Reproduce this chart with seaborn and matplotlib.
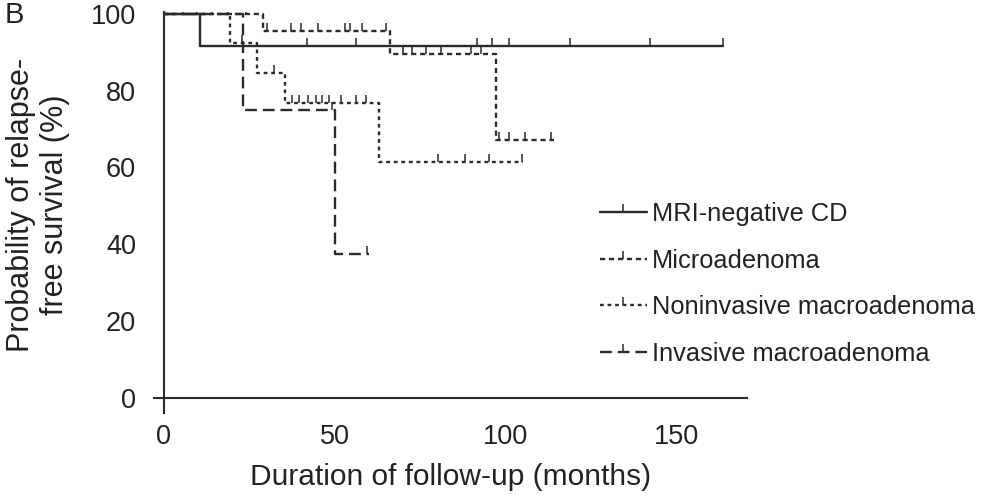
import numpy as np
import pandas as pd
import matplotlib
matplotlib.use("Agg")
import matplotlib.pyplot as plt
from matplotlib.lines import Line2D
import seaborn as sns

sns.set_theme(style="white")
plt.rcParams['font.family'] = ['Liberation Sans', 'DejaVu Sans']

# ---- data ----
groups = ["MRI-negative CD", "Microadenoma", "Noninvasive macroadenoma", "Invasive macroadenoma"]

# step change times (months) and survival (%) after each change; last entry = end of follow-up
mri_t = [0, 10.5, 163.5]
mri_s = [100, 91.7, 91.7]
mri_c = [5.5, 9.6, 41.9, 56.2, 91.4, 95.8, 100.8, 118.8, 142.1, 163.4]

micro_t = [0, 29, 66, 97, 114]
micro_s = [100, 95.5, 89.5, 67.1, 67.1]
micro_c = [18.6, 24.0, 30.0, 37.0, 40.0, 45.0, 53.0, 54.5, 58.0, 65.0,
           70.0, 72.5, 76.5, 81.0, 89.7, 92.6, 98.0, 100.8, 105.7, 113.3]

nonin_t = [0, 19.2, 27.2, 35.5, 63, 105]
nonin_s = [100, 92.3, 84.6, 76.9, 61.5, 61.5]
nonin_c = [14.0, 22.7, 32.3, 37.3, 39.6, 42.0, 44.6, 46.3, 48.3, 51.8,
           56.2, 59.0, 80.0, 88.0, 95.0, 104.8]

inv_t = [0, 23, 50, 60]
inv_s = [100, 75, 37.5, 37.5]
inv_c = [49.0, 59.5]

x_ticks = [0, 50, 100, 150]
y_ticks = [0, 20, 40, 60, 80, 100]

series = [(mri_t, mri_s, mri_c), (micro_t, micro_s, micro_c),
          (nonin_t, nonin_s, nonin_c), (inv_t, inv_s, inv_c)]

col = "#2b2b2b"
tcol = "#222222"
styles = ["-", (0, (2.2, 1.6)), (0, (1.6, 1.6)), (0, (5, 2.5))]

fig = plt.figure(figsize=(9.81, 4.95), dpi=100)
ax = fig.add_axes([0.1567, 0.1657, 0.7645 - 0.1567 - 0.003, 0.9758 - 0.1657])

for name, (t, s, c), ls in zip(groups, series, styles):
    df = pd.DataFrame({"t": t, "s": s})
    sns.lineplot(data=df, x="t", y="s", ax=ax, color=col, lw=1.7,
                 linestyle=ls, drawstyle="steps-post", estimator=None, sort=False)
    # censor ticks at survival level at time c
    idx = np.searchsorted(np.array(t), np.array(c), side="right") - 1
    cy = np.array(s)[idx]
    ax.plot(c, cy, linestyle="none", marker=2, markersize=6, mew=1.1, color=col)

ax.set_xlim(-3, 170.5)
ax.set_ylim(-4, 100.5)
ax.spines['left'].set_position(('data', 0))
ax.spines['bottom'].set_position(('data', 0))
ax.spines['top'].set_visible(False)
ax.spines['right'].set_visible(False)
for sp in ['left', 'bottom']:
    ax.spines[sp].set_color(col)
    ax.spines[sp].set_linewidth(1.5)
ax.set_xticks(x_ticks)
ax.set_yticks(y_ticks)
ax.tick_params(axis='both', direction='out', length=10, width=1.5, color=col,
               labelsize=19.5, labelcolor=tcol)
ax.tick_params(axis='y', pad=10)
ax.tick_params(axis='x', pad=9)
ax.set_xlabel("Duration of follow-up (months)", fontsize=21.5, color=tcol)
ax.set_ylabel("")
ax.xaxis.set_label_coords(0.5, -0.125)

fig.text(0.039, 0.586, "Probability of relapse-\nfree survival (%)", rotation=90,
         ha="center", va="center", fontsize=22, color=tcol, linespacing=1.19,
         multialignment="center")
fig.text(0.005, 0.997, "B", ha="left", va="top", fontsize=21, color=tcol)

handles = [Line2D([], [], color=col, lw=1.7, linestyle=ls, marker=2, markersize=6, mew=1.1)
           for ls in styles]
leg = fig.legend(handles, groups, loc="upper left", bbox_to_anchor=(0.6116, 0.592),
                 frameon=False, fontsize=18.3, handlelength=1.85, handletextpad=0.2,
                 labelspacing=0.89, borderpad=0, borderaxespad=0)
for tx in leg.get_texts():
    tx.set_color(tcol)

fig.savefig("out.png", dpi=100)
